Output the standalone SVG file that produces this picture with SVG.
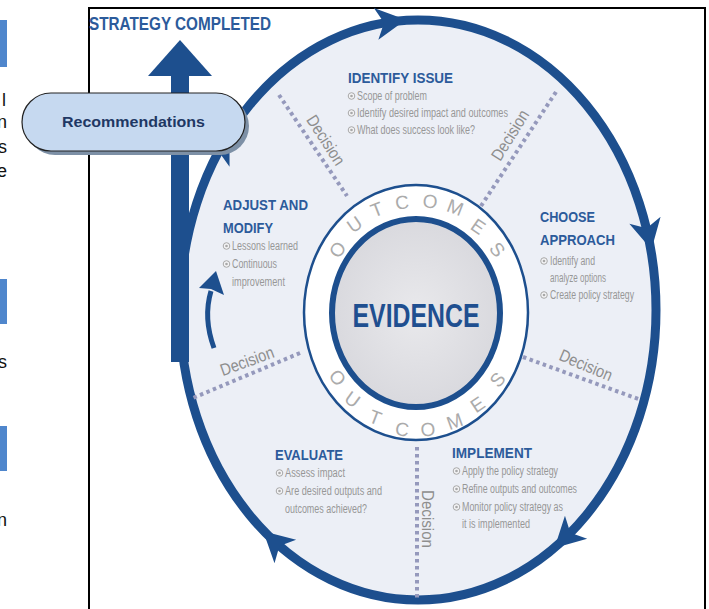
<svg xmlns="http://www.w3.org/2000/svg" width="709" height="609" viewBox="0 0 709 609">
<defs>
<style>
text{font-family:"Liberation Sans",Arial,sans-serif}
.frag{font-size:18px;fill:#111;text-anchor:end}
.bar{fill:#4F86CC}
.ring{fill:none;stroke:#1D4F8E;stroke-width:9}
.blue{fill:#1D4F8E}
.head{font-size:15px;font-weight:bold;fill:#2C5B9B}
.item{font-size:12px;fill:#979797}
.bul{fill:#F4F4F6;stroke:#A8A8A8;stroke-width:1}
.dot{fill:#A8A8A8}
.dec{stroke:#9599BC;stroke-width:4;stroke-dasharray:3.5 3.5;fill:none}
.dect{font-size:17px;fill:#8E8E8E;text-anchor:middle}
.oc{font-size:19px;fill:#ABABAB;text-anchor:middle}
</style>
<path id="ah" d="M16,0 L-14,-16 L-6,0 L-14,16 Z"/>
<g id="b"><circle r="3.3" class="bul"/><circle r="1.3" class="dot"/></g>
<radialGradient id="cg" cx="0.5" cy="0.5" r="0.5">
<stop offset="0" stop-color="#E9E9EC"/><stop offset="1" stop-color="#D9D9DE"/>
</radialGradient>
</defs>
<rect width="709" height="609" fill="#fff"/>

<g id="page-fragments">
<rect class="bar" x="0" y="20" width="7" height="47"/>
<rect class="bar" x="0" y="279" width="7" height="45"/>
<rect class="bar" x="0" y="426" width="7" height="45"/>
<text class="frag" x="6" y="106">l</text>
<text class="frag" x="7" y="128">n</text>
<text class="frag" x="7" y="153">s</text>
<text class="frag" x="7" y="177">e</text>
<text class="frag" x="7" y="368">s</text>
<text class="frag" x="7" y="526">n</text>
</g>

<g id="frame"><rect x="89" y="8" width="616" height="610" fill="none" stroke="#000" stroke-width="2"/></g>

<g id="cycle">
<ellipse cx="418" cy="310" rx="238" ry="290" fill="#ECEFF6"/>
<ellipse class="ring" cx="418" cy="310" rx="238" ry="290"/>
<g class="blue">
<use href="#ah" transform="translate(390,22) rotate(-8)"/>
<use href="#ah" transform="translate(648,234) rotate(77.5)"/>
<use href="#ah" transform="translate(566,537) rotate(136)"/>
<use href="#ah" transform="translate(275,542) rotate(222.5)"/>
<use href="#ah" transform="translate(222,147) rotate(-62)"/>
</g>
</g>

<g id="strategy-completed">
<rect class="blue" x="171" y="72" width="18" height="290"/>
<polygon class="blue" points="180,40 212,76 148,76"/>
<text x="89" y="29.5" font-size="18.5" font-weight="bold" fill="#2C5B9B" textLength="182" lengthAdjust="spacingAndGlyphs">STRATEGY COMPLETED</text>
</g>

<g id="connectors">
<path class="dec" d="M279,95 L347,196"/>
<path class="dec" d="M556,92 L481,206"/>
<path class="dec" d="M523,357 L641,400"/>
<path class="dec" d="M417,447 L417,598"/>
<path class="dec" d="M300,353 L193,398"/>
<text class="dect" transform="translate(326,140) rotate(57)" y="6" textLength="56" lengthAdjust="spacingAndGlyphs">Decision</text>
<text class="dect" transform="translate(510,135) rotate(-58)" y="6" textLength="56" lengthAdjust="spacingAndGlyphs">Decision</text>
<text class="dect" transform="translate(586,365) rotate(23)" y="6" textLength="56" lengthAdjust="spacingAndGlyphs">Decision</text>
<text class="dect" transform="translate(428,519) rotate(90)" y="6" textLength="58" lengthAdjust="spacingAndGlyphs">Decision</text>
<text class="dect" transform="translate(247,361) rotate(-20)" y="6" textLength="56" lengthAdjust="spacingAndGlyphs">Decision</text>
<path d="M214,348 Q203,318 211,291" fill="none" stroke="#1D4F8E" stroke-width="5"/>
<polygon class="blue" points="216,271 224,295 211,289 199,288"/>
</g>

<g id="identify-issue">
<text class="head" x="348" y="83" textLength="105" lengthAdjust="spacingAndGlyphs">IDENTIFY ISSUE</text>
<use href="#b" x="351.5" y="96"/><text class="item" x="357" y="100" textLength="70" lengthAdjust="spacingAndGlyphs">Scope of problem</text>
<use href="#b" x="351.5" y="113"/><text class="item" x="357" y="117" textLength="151" lengthAdjust="spacingAndGlyphs">Identify desired impact and outcomes</text>
<use href="#b" x="351.5" y="130"/><text class="item" x="357" y="134" textLength="118" lengthAdjust="spacingAndGlyphs">What does success look like?</text>
</g>

<g id="choose-approach">
<text class="head" x="540" y="222" textLength="55" lengthAdjust="spacingAndGlyphs">CHOOSE</text>
<text class="head" x="540" y="245" textLength="75" lengthAdjust="spacingAndGlyphs">APPROACH</text>
<use href="#b" x="544" y="261"/><text class="item" x="550" y="265" textLength="45" lengthAdjust="spacingAndGlyphs">Identify and</text>
<text class="item" x="550" y="282" textLength="56" lengthAdjust="spacingAndGlyphs">analyze options</text>
<use href="#b" x="544" y="295"/><text class="item" x="550" y="299" textLength="84" lengthAdjust="spacingAndGlyphs">Create policy strategy</text>
</g>

<g id="implement">
<text class="head" x="452" y="458" textLength="80" lengthAdjust="spacingAndGlyphs">IMPLEMENT</text>
<use href="#b" x="456.5" y="471"/><text class="item" x="462" y="475" textLength="96" lengthAdjust="spacingAndGlyphs">Apply the policy strategy</text>
<use href="#b" x="456.5" y="489"/><text class="item" x="462" y="493" textLength="115" lengthAdjust="spacingAndGlyphs">Refine outputs and outcomes</text>
<use href="#b" x="456.5" y="507"/><text class="item" x="462" y="511" textLength="101" lengthAdjust="spacingAndGlyphs">Monitor policy strategy as</text>
<text class="item" x="462" y="528" textLength="68" lengthAdjust="spacingAndGlyphs">it is implemented</text>
</g>

<g id="evaluate">
<text class="head" x="275" y="460" textLength="68" lengthAdjust="spacingAndGlyphs">EVALUATE</text>
<use href="#b" x="279.5" y="473"/><text class="item" x="285" y="477" textLength="60" lengthAdjust="spacingAndGlyphs">Assess impact</text>
<use href="#b" x="279.5" y="491"/><text class="item" x="285" y="495" textLength="97" lengthAdjust="spacingAndGlyphs">Are desired outputs and</text>
<text class="item" x="285" y="513" textLength="82" lengthAdjust="spacingAndGlyphs">outcomes achieved?</text>
</g>

<g id="adjust-modify">
<text class="head" x="223" y="210" textLength="85" lengthAdjust="spacingAndGlyphs">ADJUST AND</text>
<text class="head" x="223" y="233" textLength="50" lengthAdjust="spacingAndGlyphs">MODIFY</text>
<use href="#b" x="226.5" y="246"/><text class="item" x="232" y="250" textLength="66" lengthAdjust="spacingAndGlyphs">Lessons learned</text>
<use href="#b" x="226.5" y="264"/><text class="item" x="232" y="268" textLength="45" lengthAdjust="spacingAndGlyphs">Continuous</text>
<text class="item" x="232" y="286" textLength="53" lengthAdjust="spacingAndGlyphs">improvement</text>
</g>

<g id="evidence">
<ellipse cx="416" cy="312.5" rx="112" ry="127.5" fill="#fff" stroke="#1D4F8E" stroke-width="2.5"/>
<ellipse cx="416" cy="313" rx="84" ry="94" fill="url(#cg)" stroke="#1D4F8E" stroke-width="6"/>
<text x="416" y="327" font-size="34" font-weight="bold" fill="#1F4F90" text-anchor="middle" textLength="127" lengthAdjust="spacingAndGlyphs">EVIDENCE</text>
<g class="oc">
<text transform="translate(338,250) rotate(-51)" y="6">O</text>
<text transform="translate(355,225) rotate(-35)" y="6">U</text>
<text transform="translate(377,210) rotate(-21)" y="6">T</text>
<text transform="translate(402,203) rotate(-7)" y="6">C</text>
<text transform="translate(430,202) rotate(7)" y="6">O</text>
<text transform="translate(455,208) rotate(21)" y="6">M</text>
<text transform="translate(478,227) rotate(35)" y="6">E</text>
<text transform="translate(497,250) rotate(51)" y="6">S</text>
<text transform="translate(337,378) rotate(50)" y="6">O</text>
<text transform="translate(352,400) rotate(36)" y="6">U</text>
<text transform="translate(375,418) rotate(21)" y="6">T</text>
<text transform="translate(402,430) rotate(7)" y="6">C</text>
<text transform="translate(428,430) rotate(-6)" y="6">O</text>
<text transform="translate(455,422) rotate(-20)" y="6">M</text>
<text transform="translate(478,405) rotate(-34)" y="6">E</text>
<text transform="translate(498,380) rotate(-50)" y="6">S</text>
</g>
</g>

<g id="recommendations">
<rect x="26" y="97" width="223" height="58" rx="29" fill="#7D90A6"/>
<rect x="22" y="93" width="223" height="58" rx="29" fill="#C6D9F0" stroke="#222" stroke-width="1.2"/>
<text x="133.5" y="127" font-size="15" font-weight="bold" fill="#1F3864" text-anchor="middle" textLength="143" lengthAdjust="spacingAndGlyphs">Recommendations</text>
</g>
</svg>
